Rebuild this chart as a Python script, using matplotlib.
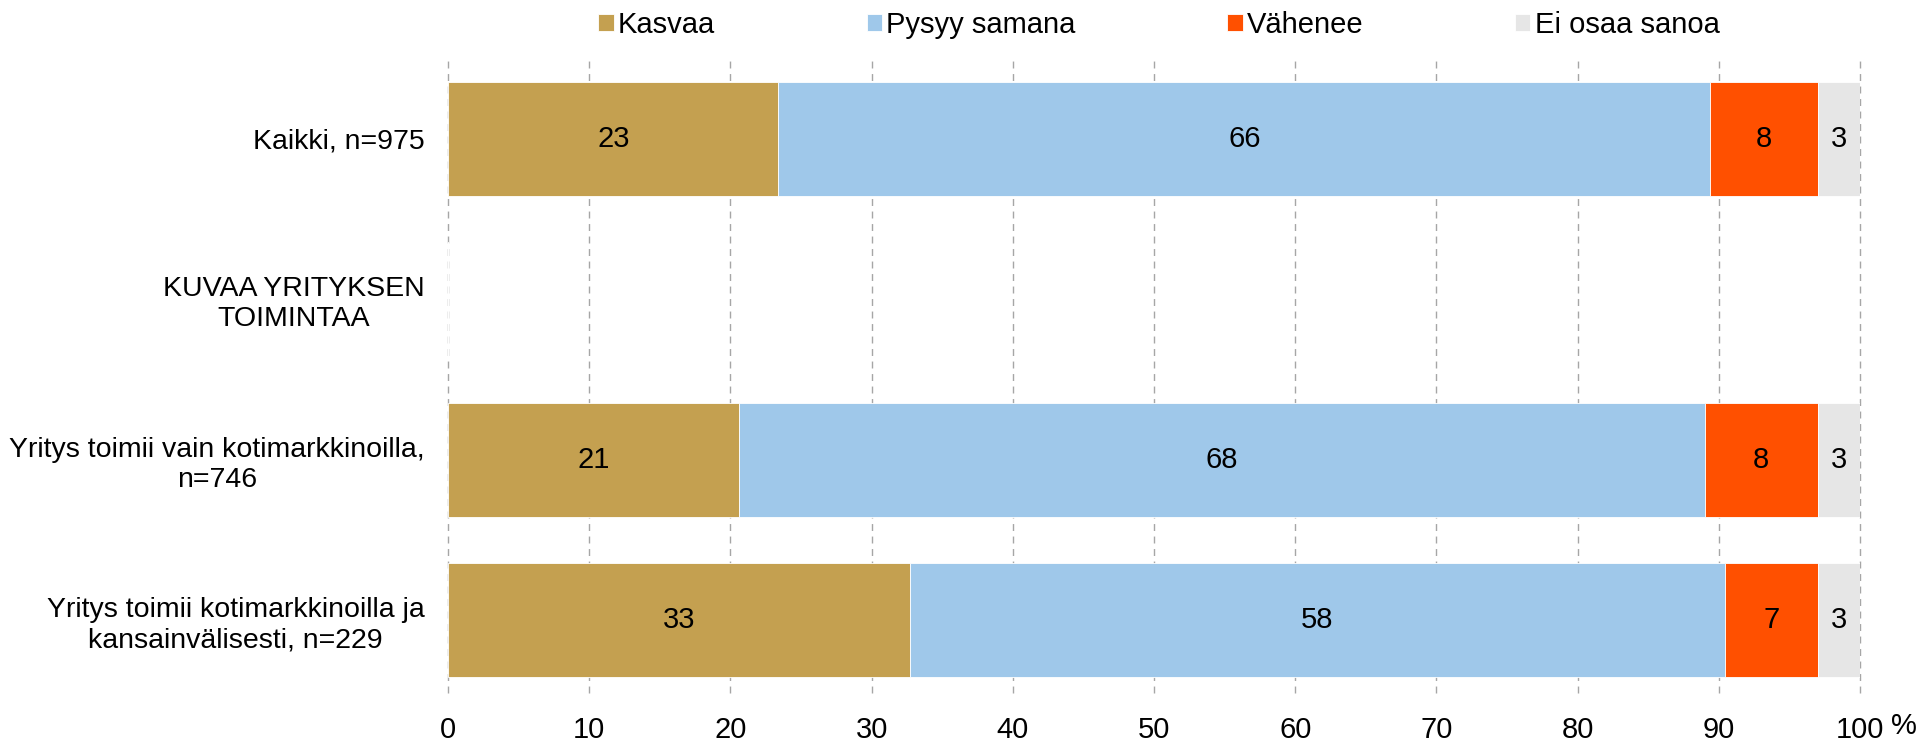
import matplotlib
matplotlib.use("Agg")
import matplotlib.pyplot as plt
import numpy as np

plt.rcParams['font.family'] = ['Liberation Sans', 'DejaVu Sans']

categories = ["Kaikki, n=975",
              "KUVAA YRITYKSEN\nTOIMINTAA",
              "Yritys toimii vain kotimarkkinoilla,\nn=746",
              "Yritys toimii kotimarkkinoilla ja\nkansainvälisesti, n=229"]
series = ["Kasvaa", "Pysyy samana", "Vähenee", "Ei osaa sanoa"]
colors = ["#C4A050", "#9FC8EA", "#FF5000", "#E6E6E6"]

# None = heading row without bar
kasvaa = [23.4, None, 20.6, 32.7]
pysyy = [66.0, None, 68.4, 57.7]
vahenee = [7.6, None, 8.0, 6.6]
eos = [3.0, None, 3.0, 3.0]
xticks = [0, 10, 20, 30, 40, 50, 60, 70, 80, 90, 100]

fs = 21

fig = plt.figure(figsize=(19.19, 7.44), dpi=100)
ax = fig.add_axes([0.2335, 0.069, 0.9693 - 0.2335, 0.919 - 0.069])

y = np.arange(len(categories))
left = np.zeros(len(categories))
for name, vals, col in zip(series, [kasvaa, pysyy, vahenee, eos], colors):
    v = np.array([np.nan if x is None else x for x in vals])
    ax.barh(y, np.nan_to_num(v), left=left, height=0.71, color=col,
            edgecolor="white", linewidth=0.6, label=name, zorder=2)
    for i, val in enumerate(v):
        if not np.isnan(val):
            ax.text(left[i] + val / 2, y[i], f"{val:.0f}", ha="center",
                    va="center", fontsize=fs, color="black", zorder=3)
    left += np.nan_to_num(v)

ax.set_xlim(0, 100)
ax.set_ylim(3.45, -0.49)
ax.set_xticks(xticks)
ax.set_xticklabels([str(t) for t in xticks], fontsize=fs)
ax.set_yticks(y)
ax.set_yticklabels(categories, fontsize=20.5)
for lab in ax.get_yticklabels():
    lab.set_multialignment("center")
ax.tick_params(axis="y", length=0, pad=17)
ax.tick_params(axis="x", length=0, pad=17)
for s in ax.spines.values():
    s.set_visible(False)
ax.xaxis.grid(True, linestyle=(0, (5, 4)), color="#A6A6A6", linewidth=1.0, zorder=0)
ax.set_axisbelow(True)
for gl in ax.get_xgridlines():
    gl.set_clip_on(False)

fig.text(1891 / 1919, 1 - 726 / 744, "%", fontsize=fs, ha="left", va="center")

ax.legend(loc="center", bbox_to_anchor=(0.604, 1 - 25 / 744), bbox_transform=fig.transFigure,
          ncol=4, frameon=False, fontsize=fs, handlelength=0.52, handleheight=0.52,
          handletextpad=0.15, columnspacing=5.2)

fig.savefig("out.png", dpi=100)
